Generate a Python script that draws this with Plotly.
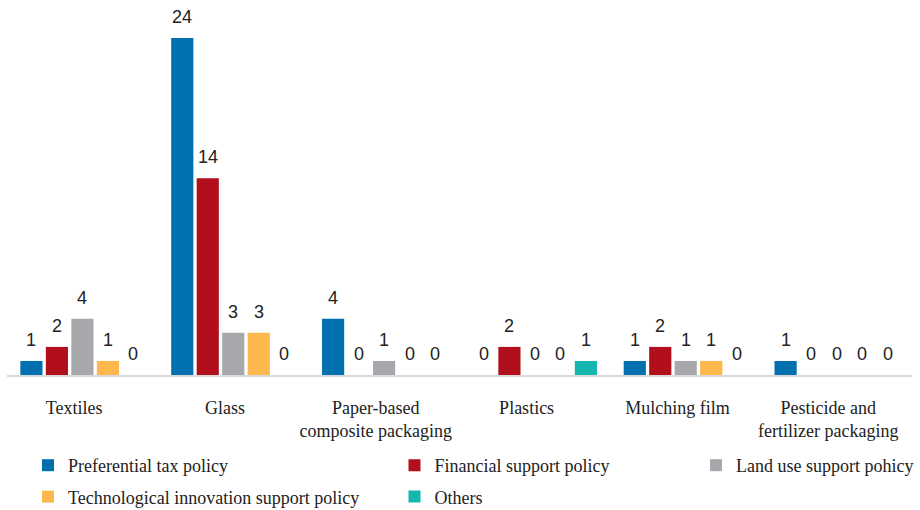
import plotly.graph_objects as go

# Packaging categories (two-line labels where the name wraps)
categories = [
    "Textiles",
    "Glass",
    "Paper-based<br>composite packaging",
    "Plastics",
    "Mulching film",
    "Pesticide and<br>fertilizer packaging",
]

# Number of policies per category, one list per policy type
preferential_tax = [1, 24, 4, 0, 1, 1]
financial_support = [2, 14, 0, 2, 2, 0]
land_use_support = [4, 3, 1, 0, 1, 0]
tech_innovation = [1, 3, 0, 0, 1, 0]
others = [0, 0, 0, 1, 0, 0]

series_names = [
    "Preferential tax policy",
    "Financial support policy",
    "Land use support pohicy",
    "Technological innovation support policy",
    "Others",
]
series_values = [preferential_tax, financial_support, land_use_support, tech_innovation, others]
colors = ["#0070ae", "#b10f1b", "#a7a8ac", "#fcb84c", "#14b6ae"]
legend_ids = ["legend", "legend2", "legend3", "legend", "legend2"]

serif = "Liberation Serif, Times New Roman, serif"
sans = "Liberation Sans, Arial, sans-serif"

bargap = 0.155
bargroupgap = 0.13
n_series = len(series_values)
slot = (1 - bargap) / n_series
positions = list(range(len(categories)))

fig = go.Figure()

for name, vals, col, lg in zip(series_names, series_values, colors, legend_ids):
    fig.add_trace(go.Bar(
        x=positions, y=vals, name=name,
        marker=dict(color=col, line=dict(width=0)),
        legend=lg, legendgroup=name,
        hovertemplate=name + ": %{y}<extra></extra>",
    ))

# Value labels above each bar of a group
annotations = []
for j, vals in enumerate(series_values):
    for i, v in enumerate(vals):
        annotations.append(dict(
            x=i + (j - (n_series - 1) / 2) * slot, y=v,
            xref="x", yref="y", text=str(v), showarrow=False,
            xanchor="center", yanchor="bottom", yshift=9,
            font=dict(family=sans, size=18, color="#222222"),
        ))

legend_common = dict(
    orientation="v", xref="container", yref="container",
    xanchor="left", yanchor="top",
    font=dict(family=serif, size=18, color="#222222"),
    bgcolor="rgba(0,0,0,0)", tracegroupgap=5,
)

fig.update_layout(
    width=920, height=510,
    margin=dict(l=7, r=8, t=0, b=135, autoexpand=False),
    paper_bgcolor="white", plot_bgcolor="white",
    barmode="group", bargap=bargap, bargroupgap=bargroupgap,
    showlegend=True,
    legend=dict(x=28 / 920, y=1 - 447 / 510, **legend_common),
    legend2=dict(x=394.5 / 920, y=1 - 447 / 510, **legend_common),
    legend3=dict(x=696 / 920, y=1 - 447 / 510, **legend_common),
    annotations=annotations,
    xaxis=dict(
        range=[-0.5, len(categories) - 0.5],
        tickvals=[p - 0.055 for p in positions], ticktext=categories,
        showline=True, linecolor="#d9d9d9", linewidth=2,
        showgrid=False, zeroline=False, ticks="", ticklabelstandoff=15,
        tickfont=dict(family=serif, size=18, color="#222222"),
        tickangle=0, fixedrange=True,
    ),
    yaxis=dict(range=[0, 26.7], visible=False, showgrid=False, zeroline=False),
)

fig.write_html("out.html")
